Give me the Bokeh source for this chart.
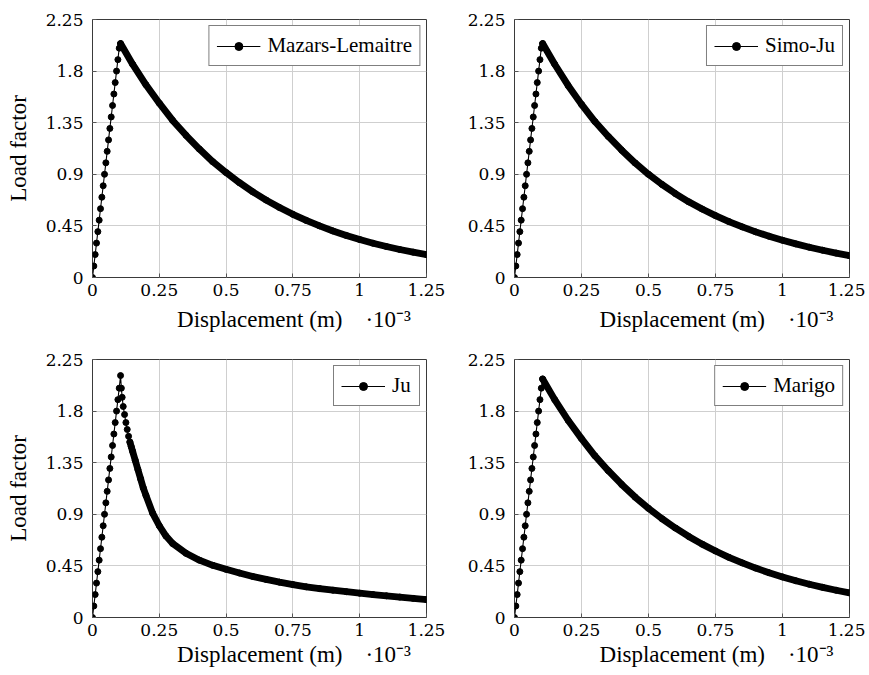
from bokeh.plotting import figure
from bokeh.layouts import gridplot
from bokeh.models import Range1d, FixedTicker
from bokeh.embed import file_html
from bokeh.resources import INLINE

# ---------------- data ----------------
x_ticks = [0, 0.25, 0.5, 0.75, 1, 1.25]
x_tick_labels = ["0", "0.25", "0.5", "0.75", "1", "1.25"]
y_ticks = [0, 0.45, 0.9, 1.35, 1.8, 2.25]
y_tick_labels = ["0", "0.45", "0.9", "1.35", "1.8", "2.25"]

# linear (elastic) branch, displacement in 1e-3 m
rise_x = [0.0, 0.005, 0.01, 0.015, 0.02, 0.025, 0.03, 0.035, 0.04, 0.045, 0.05,
          0.055, 0.06, 0.065, 0.07, 0.075, 0.08, 0.085, 0.09, 0.095, 0.1]
rise_y = [0.0, 0.1, 0.2, 0.3, 0.4, 0.5, 0.6, 0.7, 0.8, 0.9, 1.0,
          1.1, 1.2, 1.3, 1.4, 1.5, 1.6, 1.7, 1.8, 1.9, 2.0]

# softening branch
soft_x = [0.105, 0.15, 0.2, 0.25, 0.3, 0.35, 0.4, 0.45, 0.5, 0.55, 0.6, 0.65,
          0.7, 0.75, 0.8, 0.85, 0.9, 0.95, 1.0, 1.05, 1.1, 1.15, 1.2, 1.25]
mazars_y = [2.04, 1.86, 1.68, 1.52, 1.37, 1.24, 1.12, 1.01, 0.915, 0.827, 0.747, 0.675,
            0.61, 0.551, 0.498, 0.45, 0.406, 0.367, 0.331, 0.299, 0.27, 0.244, 0.221, 0.2]
simoju_y = [2.04, 1.86, 1.675, 1.51, 1.36, 1.23, 1.11, 0.999, 0.9, 0.812, 0.732, 0.66,
            0.597, 0.54, 0.488, 0.441, 0.398, 0.36, 0.325, 0.293, 0.264, 0.238, 0.213, 0.19]
marigo_y = [2.08, 1.9, 1.72, 1.56, 1.41, 1.28, 1.16, 1.05, 0.952, 0.862, 0.781, 0.707,
            0.64, 0.58, 0.525, 0.476, 0.431, 0.39, 0.354, 0.32, 0.29, 0.263, 0.238, 0.215]
ju_x = [0.105, 0.108, 0.111, 0.115, 0.12, 0.125, 0.13, 0.135, 0.14, 0.145, 0.15,
        0.16, 0.17, 0.18, 0.19, 0.2, 0.225, 0.25, 0.275, 0.3, 0.35, 0.4, 0.45, 0.5,
        0.55, 0.6, 0.65, 0.7, 0.75, 0.8, 0.85, 0.9, 0.95, 1.0, 1.05, 1.1, 1.15, 1.2, 1.25]
ju_y = [2.11, 2.0, 1.92, 1.84, 1.77, 1.7, 1.64, 1.58, 1.53, 1.49, 1.45,
        1.37, 1.29, 1.21, 1.13, 1.065, 0.91, 0.8, 0.71, 0.645, 0.56, 0.5, 0.455, 0.42,
        0.388, 0.358, 0.332, 0.308, 0.287, 0.268, 0.252, 0.238, 0.225, 0.212, 0.2, 0.189,
        0.178, 0.167, 0.156]

names = ["Mazars-Lemaitre", "Simo-Ju", "Ju", "Marigo"]
soft_xs = [soft_x, soft_x, ju_x, soft_x]
soft_ys = [mazars_y, simoju_y, ju_y, marigo_y]
band_start = [0, 0, 8, 0]   # index where the dense marker band begins

x_label = "Displacement (m)"
x_scale_note = "\u00b710\u207b\u00b3"
y_label = "Load factor"

TXT = "Liberation Serif"
NUM = "DejaVu Serif"
NB = "\u00a0"


def make(i, left, top):
    w = 448 if left else 417
    h = 346 if top else 328
    p = figure(width=w, height=h, output_backend="svg", toolbar_location=None,
               x_range=Range1d(0, 1.25), y_range=Range1d(0, 2.25),
               min_border_left=92 if left else 66,
               min_border_right=22 if left else 16,
               min_border_top=19 if top else 13,
               min_border_bottom=69 if top else 57)
    p.background_fill_color = "white"
    p.border_fill_color = "white"
    p.outline_line_color = "#3a3a3a"
    p.outline_line_width = 1

    for ax in (p.xaxis[0], p.yaxis[0]):
        ax.axis_line_color = None
        ax.major_tick_in = 4
        ax.major_tick_out = 0
        ax.major_tick_line_color = "#555555"
        ax.minor_tick_line_color = None
        ax.major_label_text_font = NUM
        ax.major_label_text_font_size = "17px"
        ax.major_label_text_color = "black"
    p.xaxis.major_label_standoff = 6
    p.yaxis.major_label_standoff = 9
    p.xaxis.ticker = FixedTicker(ticks=x_ticks)
    p.yaxis.ticker = FixedTicker(ticks=y_ticks)
    p.xaxis.major_label_overrides = {t: s for t, s in zip(x_ticks, x_tick_labels)}
    p.yaxis.major_label_overrides = {t: s for t, s in zip(y_ticks, y_tick_labels)}

    p.xaxis.axis_label = NB * 12 + x_label + NB * 4 + x_scale_note
    p.xaxis.axis_label_text_font = TXT
    p.xaxis.axis_label_text_font_size = "23px"
    p.xaxis.axis_label_text_font_style = "normal"
    p.xaxis.axis_label_text_color = "black"
    p.xaxis.axis_label_standoff = 8 if top else 3
    if left:
        p.yaxis.axis_label = y_label
        p.yaxis.axis_label_text_font = TXT
        p.yaxis.axis_label_text_font_size = "23px"
        p.yaxis.axis_label_text_font_style = "normal"
        p.yaxis.axis_label_text_color = "black"
        p.yaxis.axis_label_standoff = 12

    p.xgrid.grid_line_color = "#cfcfcf"
    p.ygrid.grid_line_color = "#cfcfcf"

    xs = rise_x + soft_xs[i]
    ys = rise_y + soft_ys[i]
    name = names[i]
    p.line(xs, ys, line_color="black", line_width=1.1, legend_label=name)
    b = len(rise_x) + band_start[i]
    p.line(xs[b:], ys[b:], line_color="black", line_width=6.8,
           line_cap="round", line_join="round")
    p.scatter(xs, ys, marker="circle", size=6, fill_color="black",
              line_color="black", legend_label=name)

    lg = p.legend[0]
    lg.location = "top_right"
    lg.border_line_color = "black"
    lg.border_line_width = 1
    lg.background_fill_alpha = 1
    lg.label_text_font = TXT
    lg.label_text_font_size = "21px"
    lg.label_text_color = "black"
    lg.glyph_width = 44
    lg.glyph_height = 20
    lg.padding = 7
    lg.margin = 6
    lg.label_standoff = 7
    return p


p1 = make(0, True, True)
p2 = make(1, False, True)
p3 = make(2, True, False)
p4 = make(3, False, False)

grid = gridplot([[p1, p2], [p3, p4]], toolbar_location=None)

open("out.html", "w").write(file_html(grid, INLINE))
